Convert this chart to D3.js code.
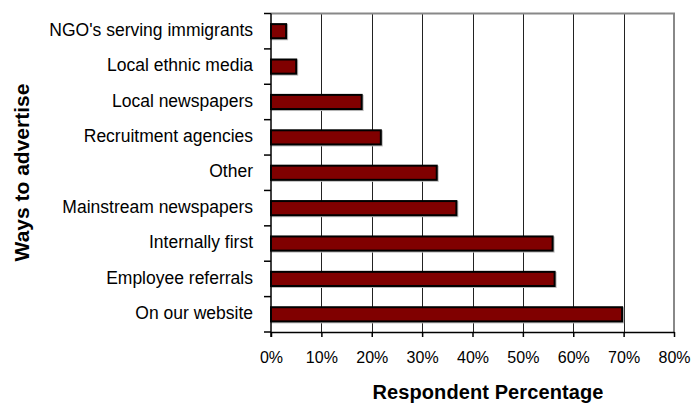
<!DOCTYPE html>
<html>
<head>
<meta charset="utf-8">
<script src="https://cdn.jsdelivr.net/npm/d3@7"></script>
<style>
  body { margin: 0; background: #fff; }
  text { font-family: Arial, "Liberation Sans", sans-serif; }
</style>
</head>
<body>
<svg id="chart" width="694" height="412"></svg>
<script>
// Data (top to bottom)
var categories = ["NGO's serving immigrants", "Local ethnic media", "Local newspapers",
                  "Recruitment agencies", "Other", "Mainstream newspapers",
                  "Internally first", "Employee referrals", "On our website"];
var values = [0.03, 0.05, 0.18, 0.218, 0.329, 0.368, 0.559, 0.563, 0.697];
var xTicks = [0, 0.1, 0.2, 0.3, 0.4, 0.5, 0.6, 0.7, 0.8];

var svg = d3.select("#chart");
var width = 694, height = 412;
var margin = {top: 13.5, right: 20, bottom: 80, left: 271};

var rows = categories.map(function(c, i) { return {name: c, value: values[i]}; });

// Scales
var xScale = d3.scaleLinear()
               .domain([0, 0.8])
               .range([margin.left, 674]);
var yScale = d3.scaleBand()
               .domain(categories)
               .range([margin.top, 332])
               .paddingInner(0.6)
               .paddingOuter(0.3);

// Gridlines
svg.selectAll("line.grid")
  .data(xTicks.slice(1))
  .enter()
  .append("line")
    .attr("class", "grid")
    .attr("x1", d => Math.round(xScale(d)) + 0.5)
    .attr("x2", d => Math.round(xScale(d)) + 0.5)
    .attr("y1", margin.top)
    .attr("y2", 332)
    .style("stroke", "#222")
    .style("stroke-width", "1px");

// Plot border (top / right)
svg.append("path")
  .attr("d", "M" + xScale(0) + "," + margin.top + "H" + xScale(0.8) + "V332")
  .style("fill", "none")
  .style("stroke", "#888")
  .style("stroke-width", "2px");

// Bars
svg.selectAll("rect.shadow")
  .data(rows)
  .enter()
  .append("rect")
    .attr("class", "shadow")
    .attr("x", xScale(0) + 1)
    .attr("y", d => yScale(d.name) + 1)
    .attr("width", d => xScale(d.value) - xScale(0))
    .attr("height", yScale.bandwidth())
    .attr("fill", "none")
    .attr("stroke", "#bbb")
    .attr("stroke-width", 2);

svg.selectAll("rect.bar")
  .data(rows)
  .enter()
  .append("rect")
    .attr("class", "bar")
    .attr("x", xScale(0))
    .attr("y", d => yScale(d.name))
    .attr("width", d => xScale(d.value) - xScale(0))
    .attr("height", yScale.bandwidth())
    .attr("fill", "#800000")
    .attr("stroke", "#000")
    .attr("stroke-width", 2);

// Y axis: ticks on band boundaries
var yAxis = svg.append("g");
yAxis.append("line")
  .attr("x1", xScale(0)).attr("x2", xScale(0))
  .attr("y1", margin.top).attr("y2", 337)
  .style("stroke", "#000").style("stroke-width", "1.5px");
var step = yScale.step();
var firstEdge = yScale(categories[0]) - (step - yScale.bandwidth()) / 2;
yAxis.selectAll("line.tick")
  .data(d3.range(categories.length + 1))
  .enter()
  .append("line")
    .attr("class", "tick")
    .attr("x1", xScale(0) - 7).attr("x2", xScale(0))
    .attr("y1", d => firstEdge + d * step)
    .attr("y2", d => firstEdge + d * step)
    .style("stroke", "#000").style("stroke-width", "1.5px");

// Category labels
svg.selectAll("text.cat")
  .data(rows)
  .enter()
  .append("text")
    .attr("class", "cat")
    .text(d => d.name)
    .attr("x", 253)
    .attr("y", d => yScale(d.name) + yScale.bandwidth() / 2)
    .attr("dy", "0.27em")
    .attr("text-anchor", "end")
    .attr("font-size", "17.5px")
    .attr("fill", "#000");

// X axis
var xAxis = d3.axisBottom(xScale)
              .tickValues(xTicks)
              .tickFormat(d3.format(".0%"))
              .tickSize(5)
              .tickSizeOuter(0);
var gx = svg.append("g")
  .attr("transform", "translate(0,332)")
  .call(xAxis);
gx.select(".domain").style("stroke", "#000").style("stroke-width", "1.5px");
gx.selectAll(".tick line").style("stroke", "#000").style("stroke-width", "1.5px");
gx.selectAll(".tick text")
  .attr("y", 20)
  .attr("dy", "0.71em")
  .style("font-family", "Arial, 'Liberation Sans', sans-serif")
  .style("font-size", "16px")
  .style("fill", "#000");

// Axis titles
svg.append("text")
  .text("Respondent Percentage")
  .attr("x", 488)
  .attr("y", 399)
  .attr("text-anchor", "middle")
  .attr("font-size", "20px")
  .attr("font-weight", "bold")
  .attr("letter-spacing", "0.1px");

svg.append("text")
  .text("Ways to advertise")
  .attr("transform", "translate(28.5,172.5) rotate(-90)")
  .attr("text-anchor", "middle")
  .attr("font-size", "21px")
  .attr("font-weight", "bold");
</script>
</body>
</html>
